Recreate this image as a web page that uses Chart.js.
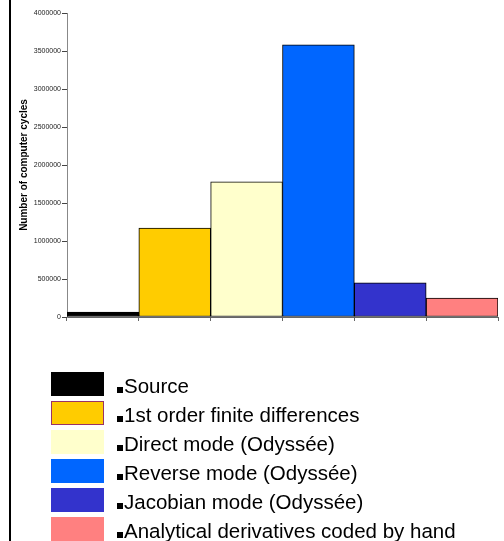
<!DOCTYPE html>
<html>
<head>
<meta charset="utf-8">
<script src="https://cdn.jsdelivr.net/npm/chart.js@4/dist/chart.umd.min.js"></script>
<style>
  html, body { margin: 0; padding: 0; background: #fff; }
  #wrap { width: 504px; height: 541px; }
</style>
</head>
<body>
<div id="wrap"><canvas id="cycles" width="504" height="541"></canvas></div>
<script>
// methods compared (one bar each)
var methods = ["Source", "1st order finite differences", "Direct mode (Odyssée)",
               "Reverse mode (Odyssée)", "Jacobian mode (Odyssée)", "Analytical derivatives coded by hand"];
var cycles = [65000, 1170000, 1780000, 3580000, 450000, 250000];
var barColors = ["#000000", "#FFCC00", "#FFFFCC", "#0066FF", "#3333CC", "#FF8080"];
var yTicks = [0, 500000, 1000000, 1500000, 2000000, 2500000, 3000000, 3500000, 4000000];

// draws the frame line on the left and the legend list under the plot
var extras = {
    id: "extras",
    afterDraw: function(chart){
        var ctx = chart.ctx;
        ctx.save();
        ctx.fillStyle = "#000";
        ctx.fillRect(9, 0, 2, chart.height);

        var top = 372, step = 29;
        for (var i = 0; i < methods.length; i++) {
            var y = top + i * step;
            ctx.fillStyle = barColors[i];
            ctx.fillRect(51, y, 53, 24);
            if (i == 1) {
                ctx.strokeStyle = "#993366";
                ctx.lineWidth = 1;
                ctx.strokeRect(51.5, y + 0.5, 52, 23);
            }
            // small square bullet before each label
            ctx.fillStyle = "#000";
            ctx.fillRect(117, y + 15, 6, 6);
            ctx.font = "20.5px 'Liberation Sans', Arial, sans-serif";
            ctx.textBaseline = "alphabetic";
            ctx.textAlign = "left";
            ctx.fillText(methods[i], 124, y + 20.5);
        }
        ctx.restore();
    }
};

var ctx = document.getElementById("cycles");
new Chart(ctx, {
    type: "bar",
    data: {
        labels: methods,
        datasets: [{
            label: "Number of computer cycles",
            data: cycles,
            backgroundColor: barColors,
            borderColor: "#000",
            borderWidth: 1,
            borderSkipped: false,
            categoryPercentage: 1,
            barPercentage: 1
        }]
    },
    options: {
        responsive: false,
        animation: false,
        devicePixelRatio: 1,
        layout: { padding: { top: 13, right: 6, bottom: 220, left: 0 } },
        plugins: {
            legend: { display: false },
            tooltip: { enabled: false }
        },
        scales: {
            x: {
                grid: { drawOnChartArea: false, drawTicks: true, tickLength: 4, color: "#666", offset: true },
                border: { color: "#666", width: 1 },
                ticks: { display: false },
                afterFit: function(s){ s.height = 4; }
            },
            y: {
                min: 0,
                max: 4000000,
                afterBuildTicks: function(s){ s.ticks = yTicks.map(function(v){ return { value: v }; }); },
                grid: { drawOnChartArea: false, tickLength: 5, color: "#444" },
                border: { color: "#888", width: 1 },
                ticks: {
                    padding: 1,
                    color: "#222",
                    font: { family: "'Liberation Sans', Arial, sans-serif", size: 7 },
                    callback: function(v){ return String(v); }
                },
                title: {
                    display: true,
                    text: "Number of computer cycles",
                    color: "#000",
                    font: { family: "'Liberation Sans', Arial, sans-serif", size: 10, weight: "bold" },
                    padding: { top: 18, bottom: 0 }
                },
                afterFit: function(s){ s.width = 67; }
            }
        }
    },
    plugins: [extras]
});
</script>
</body>
</html>
